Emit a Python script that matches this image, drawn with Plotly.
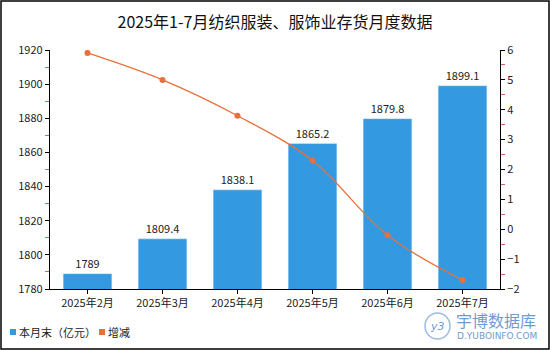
import plotly.graph_objects as go

months = ["2025年2月", "2025年3月", "2025年4月", "2025年5月", "2025年6月", "2025年7月"]
stock = [1789, 1809.4, 1838.1, 1865.2, 1879.8, 1899.1]
change = [5.9, 5.0, 3.8, 2.3, -0.2, -1.7]
stock_labels = ["1789", "1809.4", "1838.1", "1865.2", "1879.8", "1899.1"]
series_names = ["本月末（亿元）", "增减"]

W, H = 550, 350
L, R, T, B = 50, 50, 50, 61
FONT = "Noto Sans CJK SC"
BAR_C = "#3399E0"
LINE_C = "#E8703A"

fig = go.Figure()
fig.add_trace(go.Bar(
    x=months, y=stock, name=series_names[0], marker_color=BAR_C,
    text=stock_labels, textposition="outside", cliponaxis=False,
    textfont=dict(size=11, color="#222", family=FONT), showlegend=False,
))
fig.add_trace(go.Scatter(
    x=months, y=change, name=series_names[1], yaxis="y2", mode="lines+markers",
    line=dict(color=LINE_C, width=1.3, shape="spline"),
    marker=dict(color=LINE_C, size=6), showlegend=False,
))

pw, ph = W - L - R, H - T - B
fig.update_layout(
    width=W, height=H,
    margin=dict(l=L, r=R, t=T, b=B, autoexpand=False),
    paper_bgcolor="white", plot_bgcolor="white",
    font=dict(family=FONT, size=11, color="#222"),
    title=dict(text="2025年1-7月纺织服装、服饰业存货月度数据", x=0.5, xanchor="center",
               y=1 - 22 / H, yanchor="middle", font=dict(size=16, color="#111", family=FONT)),
    bargap=0.35,
    showlegend=False,
    xaxis=dict(showline=True, linecolor="black", linewidth=1.2, ticks="outside", ticklen=4,
               tickcolor="black", showgrid=False, tickfont=dict(size=11)),
    yaxis=dict(range=[1780, 1920], dtick=20, showline=True, linecolor="black", linewidth=1.2,
               ticks="outside", ticklen=4, tickcolor="black", showgrid=False, zeroline=False,
               minor=dict(ticks="outside", ticklen=4, tickcolor="#E06060", dtick=10),
               tickfont=dict(size=11)),
    yaxis2=dict(range=[-2, 6], dtick=1, overlaying="y", side="right", showline=True,
                linecolor="black", linewidth=1.2, ticks="outside", ticklen=4, tickcolor="black",
                showgrid=False, zeroline=False,
                minor=dict(ticks="outside", ticklen=4, tickcolor="#E06060", dtick=0.5),
                tickfont=dict(size=11)),
)

def px(xp):
    return (xp - L) / pw

def py(yp):
    return (H - B - yp) / ph

# outer border
fig.add_shape(type="rect", xref="paper", yref="paper",
              x0=px(1), x1=px(W - 1), y0=py(H - 1), y1=py(1),
              line=dict(color="black", width=1.5), fillcolor="rgba(0,0,0,0)", layer="above")

# compact legend drawn manually
legend_items = [(series_names[0], BAR_C, 10), (series_names[1], LINE_C, 99)]
for name, col, x0 in legend_items:
    fig.add_shape(type="rect", xref="paper", yref="paper",
                  x0=px(x0), x1=px(x0 + 6), y0=py(335), y1=py(329),
                  line=dict(width=0), fillcolor=col)
    fig.add_annotation(xref="paper", yref="paper", x=px(x0 + 7), y=py(331.5),
                       text=name, showarrow=False, xanchor="left", yanchor="middle",
                       font=dict(size=11, color="#222", family=FONT))

# watermark
WM = "#6E9CCF"
fig.add_annotation(xref="paper", yref="paper", x=px(454), y=py(320),
                   text="宇博数据库", showarrow=False, xanchor="left", yanchor="middle",
                   font=dict(size=16, color=WM, family=FONT))
fig.add_annotation(xref="paper", yref="paper", x=px(455), y=py(335.5),
                   text="D.YUBOINFO.COM", showarrow=False, xanchor="left", yanchor="middle",
                   font=dict(size=9, color=WM, family="DejaVu Sans"))
fig.add_shape(type="circle", xref="paper", yref="paper",
              x0=px(425), x1=px(450), y0=py(339), y1=py(313),
              line=dict(color="#9DBCE0", width=1.5))
fig.add_annotation(xref="paper", yref="paper", x=px(437.5), y=py(326),
                   text="<i>y3</i>", showarrow=False, xanchor="center", yanchor="middle",
                   font=dict(size=11, color=WM, family="DejaVu Sans"))

fig.write_html("out.html")
